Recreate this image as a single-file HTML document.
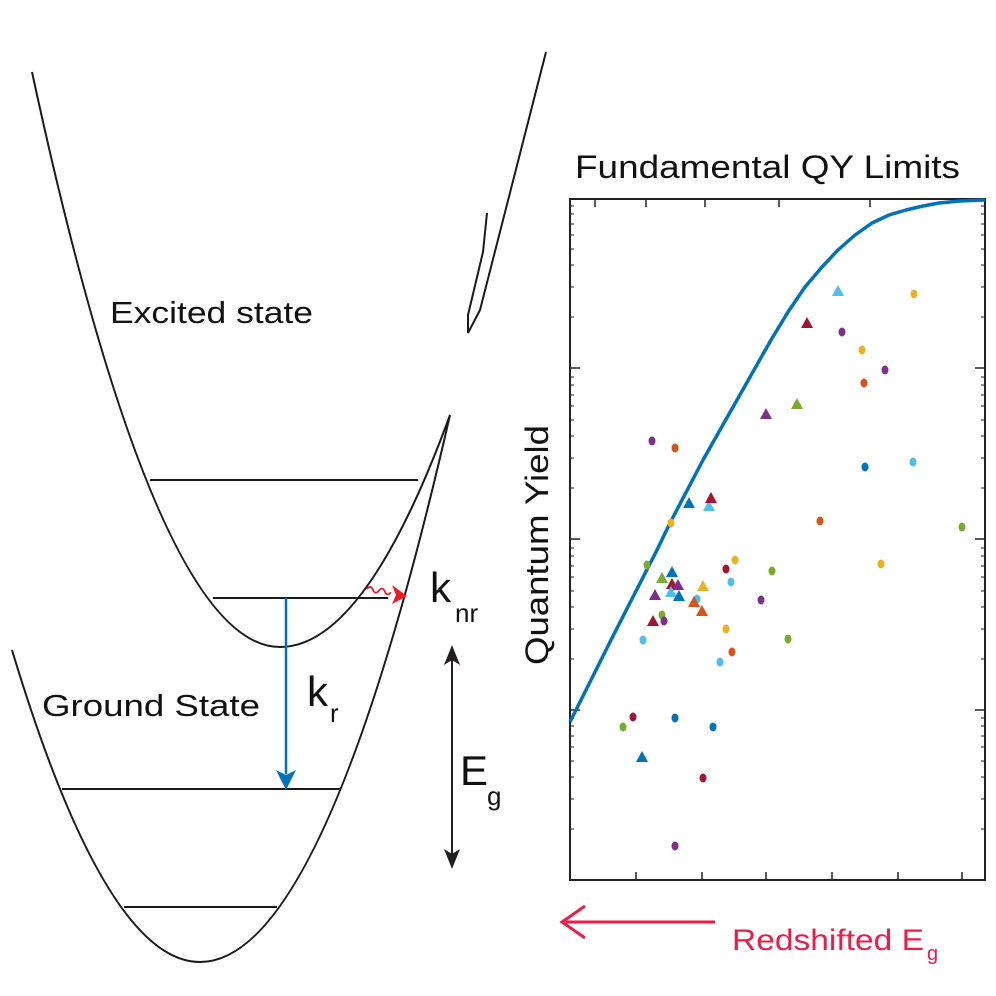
<!DOCTYPE html>
<html><head><meta charset="utf-8"><style>
html,body{margin:0;padding:0;background:#fff;}
svg{display:block;}
text{font-family:"Liberation Sans",sans-serif;}
</style></head><body>
<svg width="996" height="996" viewBox="0 0 996 996" xmlns="http://www.w3.org/2000/svg">
<g fill="none" stroke="#1a1a1a" stroke-width="2">
<path d="M32,72 Q156,647 280,647 Q365,647 450,415"/>
<path d="M12,650 Q106,962 200,962 Q325,962 450,415"/>
<path d="M546,52 L480,310 L468,333 L468,315 L483,252 L487,213"/>
<line x1="150" y1="480" x2="418" y2="480"/>
<line x1="213" y1="598" x2="388" y2="598"/>
<line x1="62" y1="789" x2="340" y2="789"/>
<line x1="124" y1="907" x2="277" y2="907"/>
</g>
<line x1="286" y1="598" x2="286" y2="774" stroke="#0072BD" stroke-width="2.5"/>
<path d="M276,770 L286,790 L296,770 L286,775 Z" fill="#0072BD"/>
<path d="M367,589 q3,-5 6,0 t6,0 t6,0 t6,0" fill="none" stroke="#ED1C24" stroke-width="1.8" transform="rotate(8 367 589)"/>
<path d="M392,585 L407,596 L392,604 L396,595 Z" fill="#ED1C24"/>
<line x1="452" y1="660" x2="452" y2="854" stroke="#231f20" stroke-width="2"/>
<path d="M444,665 L452,645 L460,665 L452,660 Z" fill="#231f20"/>
<path d="M444,849 L452,869 L460,849 L452,854 Z" fill="#231f20"/>
<text x="110" y="323" font-size="31" textLength="203" lengthAdjust="spacingAndGlyphs" fill="#111">Excited state</text>
<text x="42" y="716" font-size="31" textLength="218" lengthAdjust="spacingAndGlyphs" fill="#111">Ground State</text>
<text x="307" y="706" font-size="42" fill="#111">k</text><text x="330" y="722" font-size="26" fill="#111">r</text>
<text x="430" y="602" font-size="42" fill="#111">k</text><text x="455" y="622" font-size="26" fill="#111">nr</text>
<text x="460" y="785" font-size="42" fill="#111">E</text><text x="487" y="805" font-size="26" fill="#111">g</text>
<text x="575" y="178" font-size="32" textLength="385" lengthAdjust="spacingAndGlyphs" fill="#111">Fundamental QY Limits</text>
<text transform="translate(548,665) rotate(-90)" font-size="32" textLength="240" lengthAdjust="spacingAndGlyphs" fill="#111">Quantum Yield</text>
<text x="732" y="950" font-size="30" textLength="192" lengthAdjust="spacingAndGlyphs" fill="#ED1C47">Redshifted E</text><text x="927" y="960" font-size="20" fill="#ED1C47">g</text>
<line x1="566" y1="922" x2="715" y2="922" stroke="#ED1C47" stroke-width="3"/>
<path d="M585,906 L562,922 L585,938" fill="none" stroke="#ED1C47" stroke-width="3"/>
<rect x="570" y="199" width="415" height="681" fill="none" stroke="#222" stroke-width="2"/>
<g stroke="#222" stroke-width="1.5">
<line x1="636" y1="880" x2="636" y2="872"/><line x1="702" y1="880" x2="702" y2="872"/><line x1="766" y1="880" x2="766" y2="872"/><line x1="832" y1="880" x2="832" y2="872"/><line x1="898" y1="880" x2="898" y2="872"/><line x1="962" y1="880" x2="962" y2="872"/>
<line x1="595" y1="199" x2="595" y2="207"/><line x1="646" y1="199" x2="646" y2="207"/><line x1="705" y1="199" x2="705" y2="207"/><line x1="779" y1="199" x2="779" y2="207"/><line x1="870" y1="199" x2="870" y2="207"/>
<line x1="570" y1="368" x2="580" y2="368"/><line x1="570" y1="539" x2="580" y2="539"/><line x1="570" y1="710" x2="580" y2="710"/>
<line x1="985" y1="368" x2="975" y2="368"/><line x1="985" y1="539" x2="975" y2="539"/><line x1="985" y1="710" x2="975" y2="710"/>
</g>
<g stroke="#222" stroke-width="1">
<path d="M570,317 h4 M570,287 h4 M570,265 h4 M570,249 h4 M570,235 h4 M570,224 h4 M570,214 h4 M570,206 h4
M570,488 h4 M570,458 h4 M570,436 h4 M570,420 h4 M570,406 h4 M570,395 h4 M570,385 h4 M570,377 h4
M570,659 h4 M570,629 h4 M570,607 h4 M570,591 h4 M570,577 h4 M570,566 h4 M570,556 h4 M570,548 h4
M570,829 h4 M570,799 h4 M570,777 h4 M570,761 h4 M570,747 h4 M570,736 h4 M570,726 h4 M570,718 h4
M985,317 h-4 M985,287 h-4 M985,265 h-4 M985,249 h-4 M985,235 h-4 M985,224 h-4 M985,214 h-4 M985,206 h-4
M985,488 h-4 M985,458 h-4 M985,436 h-4 M985,420 h-4 M985,406 h-4 M985,395 h-4 M985,385 h-4 M985,377 h-4
M985,659 h-4 M985,629 h-4 M985,607 h-4 M985,591 h-4 M985,577 h-4 M985,566 h-4 M985,556 h-4 M985,548 h-4
M985,829 h-4 M985,799 h-4 M985,777 h-4 M985,761 h-4 M985,747 h-4 M985,736 h-4 M985,726 h-4 M985,718 h-4"/>
</g>
<path d="M570,722 L613,636 L657,550 L670,523 L703,460 L737,400 L771,340 L788,312 L805,287 L822,267 L838,250 L855,235 L872,223 L889,215 L906,210 L923,206 L939,203 L960,201 L985,200" fill="none" stroke="#0072BD" stroke-width="3.5" stroke-linejoin="round"/>
<g>
<ellipse cx="652" cy="441" rx="3.5" ry="4.5" fill="#7E2F8E"/>
<ellipse cx="675" cy="448" rx="3.5" ry="4.5" fill="#D95319"/>
<ellipse cx="671" cy="523" rx="3.5" ry="4.5" fill="#EDB120"/>
<ellipse cx="647" cy="565" rx="3.5" ry="4.5" fill="#77AC30"/>
<ellipse cx="726" cy="569" rx="3.5" ry="4.5" fill="#A2142F"/>
<ellipse cx="735" cy="560" rx="3.5" ry="4.5" fill="#EDB120"/>
<ellipse cx="772" cy="571" rx="3.5" ry="4.5" fill="#77AC30"/>
<ellipse cx="731" cy="582" rx="3.5" ry="4.5" fill="#4DBEEE"/>
<ellipse cx="761" cy="600" rx="3.5" ry="4.5" fill="#7E2F8E"/>
<ellipse cx="697" cy="599" rx="3.5" ry="4.5" fill="#4DBEEE"/>
<ellipse cx="662" cy="615" rx="3.5" ry="4.5" fill="#77AC30"/>
<ellipse cx="664" cy="621" rx="3.5" ry="4.5" fill="#7E2F8E"/>
<ellipse cx="643" cy="640" rx="3.5" ry="4.5" fill="#4DBEEE"/>
<ellipse cx="726" cy="629" rx="3.5" ry="4.5" fill="#EDB120"/>
<ellipse cx="732" cy="652" rx="3.5" ry="4.5" fill="#D95319"/>
<ellipse cx="720" cy="662" rx="3.5" ry="4.5" fill="#4DBEEE"/>
<ellipse cx="788" cy="639" rx="3.5" ry="4.5" fill="#77AC30"/>
<ellipse cx="820" cy="521" rx="3.5" ry="4.5" fill="#D95319"/>
<ellipse cx="865" cy="467" rx="3.5" ry="4.5" fill="#0072BD"/>
<ellipse cx="913" cy="462" rx="3.5" ry="4.5" fill="#4DBEEE"/>
<ellipse cx="962" cy="527" rx="3.5" ry="4.5" fill="#77AC30"/>
<ellipse cx="881" cy="564" rx="3.5" ry="4.5" fill="#EDB120"/>
<ellipse cx="914" cy="294" rx="3.5" ry="4.5" fill="#EDB120"/>
<ellipse cx="842" cy="332" rx="3.5" ry="4.5" fill="#7E2F8E"/>
<ellipse cx="862" cy="350" rx="3.5" ry="4.5" fill="#EDB120"/>
<ellipse cx="885" cy="370" rx="3.5" ry="4.5" fill="#7E2F8E"/>
<ellipse cx="864" cy="383" rx="3.5" ry="4.5" fill="#D95319"/>
<ellipse cx="623" cy="727" rx="3.5" ry="4.5" fill="#77AC30"/>
<ellipse cx="633" cy="717" rx="3.5" ry="4.5" fill="#A2142F"/>
<ellipse cx="675" cy="718" rx="3.5" ry="4.5" fill="#0072BD"/>
<ellipse cx="713" cy="727" rx="3.5" ry="4.5" fill="#0072BD"/>
<ellipse cx="703" cy="778" rx="3.5" ry="4.5" fill="#A2142F"/>
<ellipse cx="675" cy="846" rx="3.5" ry="4.5" fill="#7E2F8E"/>
</g>
<g>
<path d="M838,285 l6,11 h-12 z" fill="#4DBEEE"/>
<path d="M807,317 l6,11 h-12 z" fill="#A2142F"/>
<path d="M766,408 l6,11 h-12 z" fill="#7E2F8E"/>
<path d="M797,398 l6,11 h-12 z" fill="#77AC30"/>
<path d="M689,497 l6,11 h-12 z" fill="#0072BD"/>
<path d="M709,500 l6,11 h-12 z" fill="#4DBEEE"/>
<path d="M711,492 l6,11 h-12 z" fill="#A2142F"/>
<path d="M672,566 l6,11 h-12 z" fill="#0072BD"/>
<path d="M662,572 l6,11 h-12 z" fill="#77AC30"/>
<path d="M672,578 l6,11 h-12 z" fill="#A2142F"/>
<path d="M678,579 l6,11 h-12 z" fill="#7E2F8E"/>
<path d="M671,586 l6,11 h-12 z" fill="#4DBEEE"/>
<path d="M679,590 l6,11 h-12 z" fill="#0072BD"/>
<path d="M655,589 l6,11 h-12 z" fill="#7E2F8E"/>
<path d="M653,615 l6,11 h-12 z" fill="#A2142F"/>
<path d="M703,580 l6,11 h-12 z" fill="#EDB120"/>
<path d="M694,596 l6,11 h-12 z" fill="#D95319"/>
<path d="M702,605 l6,11 h-12 z" fill="#D95319"/>
<path d="M642,751 l6,11 h-12 z" fill="#0072BD"/>
</g>
</svg>
</body></html>
